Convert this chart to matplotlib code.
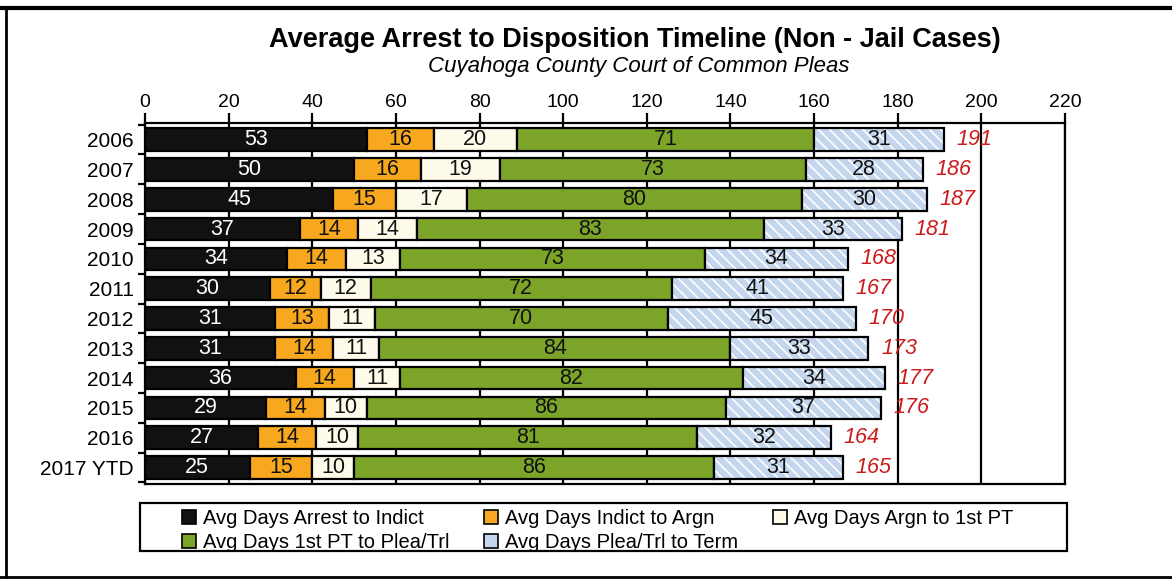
import numpy as np
import matplotlib
matplotlib.use("Agg")
import matplotlib.pyplot as plt
from matplotlib.patches import Patch, Rectangle
from matplotlib.lines import Line2D

plt.rcParams['font.family'] = ['Liberation Sans', 'DejaVu Sans']
plt.rcParams['hatch.linewidth'] = 1.2

years = ['2006', '2007', '2008', '2009', '2010', '2011', '2012', '2013',
         '2014', '2015', '2016', '2017 YTD']
arrest_to_indict = [53, 50, 45, 37, 34, 30, 31, 31, 36, 29, 27, 25]
indict_to_argn = [16, 16, 15, 14, 14, 12, 13, 14, 14, 14, 14, 15]
argn_to_pt = [20, 19, 17, 14, 13, 12, 11, 11, 11, 10, 10, 10]
pt_to_plea = [71, 73, 80, 83, 73, 72, 70, 84, 82, 86, 81, 86]
plea_to_term = [31, 28, 30, 33, 34, 41, 45, 33, 34, 37, 32, 31]
totals = [191, 186, 187, 181, 168, 167, 170, 173, 177, 176, 164, 165]

series_names = ['Avg Days Arrest to Indict', 'Avg Days Indict to Argn',
                'Avg Days Argn to 1st PT', 'Avg Days 1st PT to Plea/Trl',
                'Avg Days Plea/Trl to Term']
series_vals = [arrest_to_indict, indict_to_argn, argn_to_pt, pt_to_plea, plea_to_term]
colors = ['#111111', '#f7a81e', '#fffbea', '#7ba428', '#c4d5ee']
text_colors = ['white', '#111111', '#111111', '#111111', '#111111']

fig = plt.figure(figsize=(11.72, 5.81), dpi=100)
ax = fig.add_axes([0.1237, 0.167, 0.785, 0.621])

y = np.arange(len(years))
left = np.zeros(len(years))
bar_h = 0.76
handles = []
for vals, col, tcol, name in zip(series_vals, colors, text_colors, series_names):
    vals = np.array(vals)
    if name.endswith('Term'):
        # light blue with white texture, outline drawn separately
        ax.barh(y, vals, left=left, height=bar_h, color=col, hatch='\\\\\\',
                edgecolor='white', linewidth=0, zorder=2)
        bars = ax.barh(y, vals, left=left, height=bar_h, fill=False,
                       edgecolor='black', linewidth=1.6, zorder=3)
    else:
        bars = ax.barh(y, vals, left=left, height=bar_h, color=col,
                       edgecolor='black', linewidth=1.6, zorder=2)
    ax.bar_label(bars, labels=[str(v) for v in vals], label_type='center',
                 color=tcol, fontsize=15.5, zorder=4)
    handles.append(Patch(facecolor=col, edgecolor='black', linewidth=1.2))
    left += vals

# totals in red at the end of each bar
ax.bar_label(bars, labels=[str(t) for t in totals], padding=9, color='#cc1a1a',
             fontsize=15.5, fontstyle='italic')

ax.set_xlim(0, 220)
ax.set_ylim(11.55, -0.55)
ax.set_xticks(range(0, 221, 20))
ax.xaxis.tick_top()
ax.tick_params(axis='x', length=7, width=1.6, pad=2, labelsize=14)
ax.set_yticks(y, years)
ax.tick_params(axis='y', which='major', length=0, pad=8, labelsize=15)
ax.set_yticks(np.arange(-0.5, 12, 1), minor=True)
ax.tick_params(axis='y', which='minor', length=5, width=1.6, direction='out')
ax.grid(axis='x', color='black', linewidth=1.6, zorder=0)
ax.set_axisbelow(True)
for s in ax.spines.values():
    s.set_linewidth(1.6)

fig.text(0.542, 0.931, 'Average Arrest to Disposition Timeline (Non - Jail Cases)',
         ha='center', va='center', fontsize=19.5, fontweight='bold')
fig.text(0.545, 0.885, 'Cuyahoga County Court of Common Pleas',
         ha='center', va='center', fontsize=16, fontstyle='italic')

# legend frame drawn separately so the entries can sit indented
fig.add_artist(Rectangle((0.1195, 0.052), 0.791, 0.083, transform=fig.transFigure,
                         facecolor='white', edgecolor='black', lw=1.6, zorder=1))
order = [0, 3, 1, 4, 2]
fig.legend([handles[i] for i in order], [series_names[i] for i in order],
           loc='center left', bbox_to_anchor=(0.155, 0.087, 0.71, 0.0),
           mode='expand', ncol=3, frameon=False, fontsize=14.5,
           handlelength=0.7, handleheight=0.7, handletextpad=0.35,
           labelspacing=0.25, borderpad=0, borderaxespad=0)

# outer frame
fig.add_artist(Line2D([0, 1], [0.986, 0.986], color='black', lw=3))
fig.add_artist(Line2D([0.005, 0.005], [0.007, 0.986], color='black', lw=2))
fig.add_artist(Line2D([0, 1], [0.007, 0.007], color='black', lw=2))

fig.savefig('out.png', dpi=100)
